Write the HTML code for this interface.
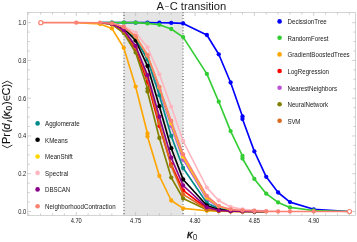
<!DOCTYPE html><html><head><meta charset="utf-8"><style>html,body{margin:0;padding:0;background:#fff}</style></head><body><svg width="357" height="242" viewBox="0 0 357 242" style="display:block;will-change:transform;font-family:'Liberation Sans',sans-serif">
<rect width="357" height="242" fill="#fff"/>
<rect x="123.50" y="12.6" width="59.32" height="202.8" fill="#e5e5e5"/>
<line x1="124.05" y1="12.05" x2="124.05" y2="215.4" stroke="#888" stroke-width="1.7" stroke-dasharray="0.9 2.145"/>
<line x1="183.02" y1="12.05" x2="183.02" y2="215.4" stroke="#888" stroke-width="1.7" stroke-dasharray="0.9 2.145"/>
<polyline points="100.00,22.65 111.87,22.65 123.75,22.65 135.62,22.65 147.49,22.65 159.37,22.70 171.24,22.90 183.12,23.40 206.86,35.00 218.74,54.30 230.61,82.50 242.49,116.50 242.49,119.00 254.36,151.40 266.23,176.80 278.11,192.50 289.98,202.10 313.73,209.30 349.35,211.50" fill="none" stroke="#0000ff" stroke-width="1.65" stroke-linejoin="round"/>
<circle cx="111.87" cy="22.65" r="2.15" fill="#0000ff"/>
<circle cx="123.75" cy="22.65" r="2.15" fill="#0000ff"/>
<circle cx="135.62" cy="22.65" r="2.15" fill="#0000ff"/>
<circle cx="147.49" cy="22.65" r="2.15" fill="#0000ff"/>
<circle cx="159.37" cy="22.70" r="2.15" fill="#0000ff"/>
<circle cx="171.24" cy="22.90" r="2.15" fill="#0000ff"/>
<circle cx="183.12" cy="23.40" r="2.15" fill="#0000ff"/>
<circle cx="206.86" cy="35.00" r="2.15" fill="#0000ff"/>
<circle cx="218.74" cy="54.30" r="2.15" fill="#0000ff"/>
<circle cx="230.61" cy="82.50" r="2.15" fill="#0000ff"/>
<circle cx="242.49" cy="116.50" r="2.15" fill="#0000ff"/>
<circle cx="242.49" cy="119.00" r="2.15" fill="#0000ff"/>
<circle cx="254.36" cy="151.40" r="2.15" fill="#0000ff"/>
<circle cx="266.23" cy="176.80" r="2.15" fill="#0000ff"/>
<circle cx="278.11" cy="192.50" r="2.15" fill="#0000ff"/>
<circle cx="289.98" cy="202.10" r="2.15" fill="#0000ff"/>
<circle cx="313.73" cy="209.30" r="2.15" fill="#0000ff"/>
<polyline points="100.00,22.65 111.87,22.65 123.75,22.65 135.62,22.65 147.49,23.40 159.37,24.80 171.24,29.00 183.12,37.10 206.86,73.90 218.74,101.70 230.61,131.10 242.49,156.00 242.49,158.50 254.36,178.90 266.23,193.70 278.11,202.40 289.98,207.40 313.73,210.50 349.35,211.50" fill="none" stroke="#32cd32" stroke-width="1.65" stroke-linejoin="round"/>
<circle cx="111.87" cy="22.65" r="2.15" fill="#32cd32"/>
<circle cx="123.75" cy="22.65" r="2.15" fill="#32cd32"/>
<circle cx="135.62" cy="22.65" r="2.15" fill="#32cd32"/>
<circle cx="147.49" cy="23.40" r="2.15" fill="#32cd32"/>
<circle cx="159.37" cy="24.80" r="2.15" fill="#32cd32"/>
<circle cx="171.24" cy="29.00" r="2.15" fill="#32cd32"/>
<circle cx="183.12" cy="37.10" r="2.15" fill="#32cd32"/>
<circle cx="206.86" cy="73.90" r="2.15" fill="#32cd32"/>
<circle cx="218.74" cy="101.70" r="2.15" fill="#32cd32"/>
<circle cx="230.61" cy="131.10" r="2.15" fill="#32cd32"/>
<circle cx="242.49" cy="156.00" r="2.15" fill="#32cd32"/>
<circle cx="242.49" cy="158.50" r="2.15" fill="#32cd32"/>
<circle cx="254.36" cy="178.90" r="2.15" fill="#32cd32"/>
<circle cx="266.23" cy="193.70" r="2.15" fill="#32cd32"/>
<circle cx="278.11" cy="202.40" r="2.15" fill="#32cd32"/>
<circle cx="289.98" cy="207.40" r="2.15" fill="#32cd32"/>
<circle cx="313.73" cy="210.50" r="2.15" fill="#32cd32"/>
<polyline points="76.25,22.65 100.00,24.00 111.87,28.40 123.75,47.80 135.62,86.60 147.49,133.50 147.49,136.50 159.37,176.00 171.24,200.50 183.12,208.40 206.86,210.80 218.74,211.30 230.61,211.50 242.49,211.50 254.36,211.50 266.23,211.50" fill="none" stroke="#ffa500" stroke-width="1.65" stroke-linejoin="round"/>
<circle cx="100.00" cy="24.00" r="2.15" fill="#ffa500"/>
<circle cx="111.87" cy="28.40" r="2.15" fill="#ffa500"/>
<circle cx="123.75" cy="47.80" r="2.15" fill="#ffa500"/>
<circle cx="135.62" cy="86.60" r="2.15" fill="#ffa500"/>
<circle cx="147.49" cy="133.50" r="2.15" fill="#ffa500"/>
<circle cx="147.49" cy="136.50" r="2.15" fill="#ffa500"/>
<circle cx="159.37" cy="176.00" r="2.15" fill="#ffa500"/>
<circle cx="171.24" cy="200.50" r="2.15" fill="#ffa500"/>
<circle cx="183.12" cy="208.40" r="2.15" fill="#ffa500"/>
<circle cx="206.86" cy="210.80" r="2.15" fill="#ffa500"/>
<circle cx="218.74" cy="211.30" r="2.15" fill="#ffa500"/>
<circle cx="230.61" cy="211.50" r="2.15" fill="#ffa500"/>
<circle cx="242.49" cy="211.50" r="2.15" fill="#ffa500"/>
<circle cx="254.36" cy="211.50" r="2.15" fill="#ffa500"/>
<polyline points="100.00,22.80 111.87,24.00 123.75,31.50 135.62,49.50 147.49,82.00 159.37,126.00 171.24,164.50 183.12,190.40 206.86,208.50 218.74,210.60 230.61,211.20 242.49,211.50 254.36,211.50 266.23,211.50" fill="none" stroke="#ff0000" stroke-width="1.65" stroke-linejoin="round"/>
<circle cx="111.87" cy="24.00" r="2.15" fill="#ff0000"/>
<circle cx="123.75" cy="31.50" r="2.15" fill="#ff0000"/>
<circle cx="135.62" cy="49.50" r="2.15" fill="#ff0000"/>
<circle cx="147.49" cy="82.00" r="2.15" fill="#ff0000"/>
<circle cx="159.37" cy="126.00" r="2.15" fill="#ff0000"/>
<circle cx="171.24" cy="164.50" r="2.15" fill="#ff0000"/>
<circle cx="183.12" cy="190.40" r="2.15" fill="#ff0000"/>
<circle cx="206.86" cy="208.50" r="2.15" fill="#ff0000"/>
<circle cx="218.74" cy="210.60" r="2.15" fill="#ff0000"/>
<circle cx="230.61" cy="211.20" r="2.15" fill="#ff0000"/>
<circle cx="242.49" cy="211.50" r="2.15" fill="#ff0000"/>
<circle cx="254.36" cy="211.50" r="2.15" fill="#ff0000"/>
<polyline points="111.87,23.50 123.75,28.00 135.62,37.50 147.49,57.00 159.37,90.00 171.24,126.00 183.12,159.40 206.86,199.20 218.74,207.20 230.61,210.00 242.49,211.00 254.36,211.50 266.23,211.50" fill="none" stroke="#ba55d3" stroke-width="1.65" stroke-linejoin="round"/>
<circle cx="123.75" cy="28.00" r="2.15" fill="#ba55d3"/>
<circle cx="135.62" cy="37.50" r="2.15" fill="#ba55d3"/>
<circle cx="147.49" cy="57.00" r="2.15" fill="#ba55d3"/>
<circle cx="159.37" cy="90.00" r="2.15" fill="#ba55d3"/>
<circle cx="171.24" cy="126.00" r="2.15" fill="#ba55d3"/>
<circle cx="183.12" cy="159.40" r="2.15" fill="#ba55d3"/>
<circle cx="206.86" cy="199.20" r="2.15" fill="#ba55d3"/>
<circle cx="218.74" cy="207.20" r="2.15" fill="#ba55d3"/>
<circle cx="230.61" cy="210.00" r="2.15" fill="#ba55d3"/>
<circle cx="242.49" cy="211.00" r="2.15" fill="#ba55d3"/>
<circle cx="254.36" cy="211.50" r="2.15" fill="#ba55d3"/>
<polyline points="100.00,22.90 111.87,24.30 123.75,33.00 135.62,52.60 147.49,88.60 147.49,91.50 159.37,138.00 171.24,177.60 183.12,198.50 206.86,209.80 218.74,211.00 230.61,211.30 242.49,211.50 254.36,211.50 266.23,211.50" fill="none" stroke="#808000" stroke-width="1.65" stroke-linejoin="round"/>
<circle cx="111.87" cy="24.30" r="2.15" fill="#808000"/>
<circle cx="123.75" cy="33.00" r="2.15" fill="#808000"/>
<circle cx="135.62" cy="52.60" r="2.15" fill="#808000"/>
<circle cx="147.49" cy="88.60" r="2.15" fill="#808000"/>
<circle cx="147.49" cy="91.50" r="2.15" fill="#808000"/>
<circle cx="159.37" cy="138.00" r="2.15" fill="#808000"/>
<circle cx="171.24" cy="177.60" r="2.15" fill="#808000"/>
<circle cx="183.12" cy="198.50" r="2.15" fill="#808000"/>
<circle cx="206.86" cy="209.80" r="2.15" fill="#808000"/>
<circle cx="218.74" cy="211.00" r="2.15" fill="#808000"/>
<circle cx="230.61" cy="211.30" r="2.15" fill="#808000"/>
<circle cx="242.49" cy="211.50" r="2.15" fill="#808000"/>
<circle cx="254.36" cy="211.50" r="2.15" fill="#808000"/>
<polyline points="100.00,22.80 111.87,24.00 123.75,31.00 135.62,47.50 147.49,78.00 159.37,123.00 171.24,166.00 183.12,194.40 206.86,209.20 218.74,210.80 230.61,211.20 242.49,211.50 254.36,211.50 266.23,211.50" fill="none" stroke="#dc6a1e" stroke-width="1.65" stroke-linejoin="round"/>
<circle cx="111.87" cy="24.00" r="2.15" fill="#dc6a1e"/>
<circle cx="123.75" cy="31.00" r="2.15" fill="#dc6a1e"/>
<circle cx="135.62" cy="47.50" r="2.15" fill="#dc6a1e"/>
<circle cx="147.49" cy="78.00" r="2.15" fill="#dc6a1e"/>
<circle cx="159.37" cy="123.00" r="2.15" fill="#dc6a1e"/>
<circle cx="171.24" cy="166.00" r="2.15" fill="#dc6a1e"/>
<circle cx="183.12" cy="194.40" r="2.15" fill="#dc6a1e"/>
<circle cx="206.86" cy="209.20" r="2.15" fill="#dc6a1e"/>
<circle cx="218.74" cy="210.80" r="2.15" fill="#dc6a1e"/>
<circle cx="230.61" cy="211.20" r="2.15" fill="#dc6a1e"/>
<circle cx="242.49" cy="211.50" r="2.15" fill="#dc6a1e"/>
<circle cx="254.36" cy="211.50" r="2.15" fill="#dc6a1e"/>
<polyline points="111.87,23.40 123.75,27.50 135.62,38.50 147.49,59.50 159.37,95.20 171.24,136.00 183.12,168.00 206.86,203.00 218.74,208.60 230.61,210.50 242.49,211.10 254.36,211.50 266.23,211.50" fill="none" stroke="#008b8b" stroke-width="1.65" stroke-linejoin="round"/>
<circle cx="123.75" cy="27.50" r="2.15" fill="#008b8b"/>
<circle cx="135.62" cy="38.50" r="2.15" fill="#008b8b"/>
<circle cx="147.49" cy="59.50" r="2.15" fill="#008b8b"/>
<circle cx="159.37" cy="95.20" r="2.15" fill="#008b8b"/>
<circle cx="171.24" cy="136.00" r="2.15" fill="#008b8b"/>
<circle cx="183.12" cy="168.00" r="2.15" fill="#008b8b"/>
<circle cx="206.86" cy="203.00" r="2.15" fill="#008b8b"/>
<circle cx="218.74" cy="208.60" r="2.15" fill="#008b8b"/>
<circle cx="230.61" cy="210.50" r="2.15" fill="#008b8b"/>
<circle cx="242.49" cy="211.10" r="2.15" fill="#008b8b"/>
<circle cx="254.36" cy="211.50" r="2.15" fill="#008b8b"/>
<polyline points="111.87,23.50 123.75,28.50 135.62,40.50 147.49,66.00 159.37,106.20 171.24,148.20 183.12,179.50 206.86,205.50 218.74,209.50 230.61,210.80 242.49,211.20 254.36,211.50 266.23,211.50" fill="none" stroke="#000000" stroke-width="1.65" stroke-linejoin="round"/>
<circle cx="123.75" cy="28.50" r="2.15" fill="#000000"/>
<circle cx="135.62" cy="40.50" r="2.15" fill="#000000"/>
<circle cx="147.49" cy="66.00" r="2.15" fill="#000000"/>
<circle cx="159.37" cy="106.20" r="2.15" fill="#000000"/>
<circle cx="171.24" cy="148.20" r="2.15" fill="#000000"/>
<circle cx="183.12" cy="179.50" r="2.15" fill="#000000"/>
<circle cx="206.86" cy="205.50" r="2.15" fill="#000000"/>
<circle cx="218.74" cy="209.50" r="2.15" fill="#000000"/>
<circle cx="230.61" cy="210.80" r="2.15" fill="#000000"/>
<circle cx="242.49" cy="211.20" r="2.15" fill="#000000"/>
<circle cx="254.36" cy="211.50" r="2.15" fill="#000000"/>
<polyline points="111.87,23.40 123.75,27.30 135.62,36.50 147.49,55.50 159.37,87.50 171.24,123.30 183.12,156.80 206.86,197.60 218.74,206.50 230.61,209.70 242.49,211.00 254.36,211.50 266.23,211.50" fill="none" stroke="#ffd700" stroke-width="1.65" stroke-linejoin="round"/>
<circle cx="123.75" cy="27.30" r="2.15" fill="#ffd700"/>
<circle cx="135.62" cy="36.50" r="2.15" fill="#ffd700"/>
<circle cx="147.49" cy="55.50" r="2.15" fill="#ffd700"/>
<circle cx="159.37" cy="87.50" r="2.15" fill="#ffd700"/>
<circle cx="171.24" cy="123.30" r="2.15" fill="#ffd700"/>
<circle cx="183.12" cy="156.80" r="2.15" fill="#ffd700"/>
<circle cx="206.86" cy="197.60" r="2.15" fill="#ffd700"/>
<circle cx="218.74" cy="206.50" r="2.15" fill="#ffd700"/>
<circle cx="242.49" cy="211.00" r="2.15" fill="#ffd700"/>
<circle cx="254.36" cy="211.50" r="2.15" fill="#ffd700"/>
<polyline points="111.87,23.20 123.75,26.50 135.62,32.60 147.49,47.50 159.37,74.30 171.24,106.70 183.12,141.00 206.86,187.60 218.74,200.50 230.61,206.90 242.49,209.40 254.36,210.40 266.23,211.00 278.11,211.30" fill="none" stroke="#ffb6c1" stroke-width="1.65" stroke-linejoin="round"/>
<circle cx="123.75" cy="26.50" r="2.15" fill="#ffb6c1"/>
<circle cx="135.62" cy="32.60" r="2.15" fill="#ffb6c1"/>
<circle cx="147.49" cy="47.50" r="2.15" fill="#ffb6c1"/>
<circle cx="159.37" cy="74.30" r="2.15" fill="#ffb6c1"/>
<circle cx="171.24" cy="106.70" r="2.15" fill="#ffb6c1"/>
<circle cx="183.12" cy="141.00" r="2.15" fill="#ffb6c1"/>
<circle cx="206.86" cy="187.60" r="2.15" fill="#ffb6c1"/>
<circle cx="218.74" cy="200.50" r="2.15" fill="#ffb6c1"/>
<circle cx="230.61" cy="206.90" r="2.15" fill="#ffb6c1"/>
<circle cx="242.49" cy="209.40" r="2.15" fill="#ffb6c1"/>
<circle cx="254.36" cy="210.40" r="2.15" fill="#ffb6c1"/>
<circle cx="266.23" cy="211.00" r="2.15" fill="#ffb6c1"/>
<polyline points="100.00,22.70 111.87,23.80 123.75,30.00 135.62,46.00 147.49,75.20 159.37,116.80 171.24,157.70 183.12,185.50 206.86,207.30 218.74,210.30 230.61,211.00 242.49,211.20 254.36,211.50 266.23,211.50" fill="none" stroke="#8b008b" stroke-width="1.65" stroke-linejoin="round"/>
<circle cx="111.87" cy="23.80" r="2.15" fill="#8b008b"/>
<circle cx="123.75" cy="30.00" r="2.15" fill="#8b008b"/>
<circle cx="135.62" cy="46.00" r="2.15" fill="#8b008b"/>
<circle cx="147.49" cy="75.20" r="2.15" fill="#8b008b"/>
<circle cx="159.37" cy="116.80" r="2.15" fill="#8b008b"/>
<circle cx="171.24" cy="157.70" r="2.15" fill="#8b008b"/>
<circle cx="183.12" cy="185.50" r="2.15" fill="#8b008b"/>
<circle cx="206.86" cy="207.30" r="2.15" fill="#8b008b"/>
<circle cx="218.74" cy="210.30" r="2.15" fill="#8b008b"/>
<circle cx="230.61" cy="211.00" r="2.15" fill="#8b008b"/>
<circle cx="242.49" cy="211.20" r="2.15" fill="#8b008b"/>
<circle cx="254.36" cy="211.50" r="2.15" fill="#8b008b"/>
<polyline points="40.63,22.65 76.25,22.65 100.00,22.70 111.87,23.30 123.75,27.00 135.62,36.10 147.49,55.00 159.37,86.80 171.24,121.00 183.12,154.40 206.86,196.00 218.74,206.00 230.61,209.40 242.49,210.50 254.36,211.00 266.23,211.50 278.11,211.50 289.98,211.50 313.73,211.50 349.35,211.50" fill="none" stroke="#fa8072" stroke-width="1.65" stroke-linejoin="round"/>
<circle cx="40.78" cy="22.65" r="2.05" fill="#fff" stroke="#fa8072" stroke-width="1.15"/>
<circle cx="76.25" cy="22.65" r="2.15" fill="#fa8072"/>
<circle cx="100.00" cy="22.70" r="2.15" fill="#fa8072"/>
<circle cx="111.87" cy="23.30" r="2.15" fill="#fa8072"/>
<circle cx="123.75" cy="27.00" r="2.15" fill="#fa8072"/>
<circle cx="135.62" cy="36.10" r="2.15" fill="#fa8072"/>
<circle cx="147.49" cy="55.00" r="2.15" fill="#fa8072"/>
<circle cx="159.37" cy="86.80" r="2.15" fill="#fa8072"/>
<circle cx="171.24" cy="121.00" r="2.15" fill="#fa8072"/>
<circle cx="183.12" cy="154.40" r="2.15" fill="#fa8072"/>
<circle cx="206.86" cy="196.00" r="2.15" fill="#fa8072"/>
<circle cx="218.74" cy="206.00" r="2.15" fill="#fa8072"/>
<circle cx="230.61" cy="209.40" r="2.15" fill="#fa8072"/>
<circle cx="242.49" cy="210.50" r="2.15" fill="#fa8072"/>
<circle cx="254.36" cy="211.00" r="2.15" fill="#fa8072"/>
<circle cx="266.23" cy="211.50" r="2.15" fill="#fa8072"/>
<circle cx="278.11" cy="211.50" r="2.15" fill="#fa8072"/>
<circle cx="289.98" cy="211.50" r="2.15" fill="#fa8072"/>
<circle cx="313.73" cy="211.50" r="2.15" fill="#fa8072"/>
<circle cx="349.50" cy="211.50" r="2.05" fill="#fff" stroke="#fa8072" stroke-width="1.15"/>
<rect x="27.7" y="12.6" width="327.8" height="202.8" fill="none" stroke="#b2b2b2" stroke-width="0.55"/>
<line x1="28.75" y1="215.4" x2="28.75" y2="213.3" stroke="#b2b2b2" stroke-width="0.6"/>
<line x1="28.75" y1="12.6" x2="28.75" y2="14.7" stroke="#b2b2b2" stroke-width="0.6"/>
<line x1="40.63" y1="215.4" x2="40.63" y2="213.3" stroke="#b2b2b2" stroke-width="0.6"/>
<line x1="40.63" y1="12.6" x2="40.63" y2="14.7" stroke="#b2b2b2" stroke-width="0.6"/>
<line x1="52.50" y1="215.4" x2="52.50" y2="213.3" stroke="#b2b2b2" stroke-width="0.6"/>
<line x1="52.50" y1="12.6" x2="52.50" y2="14.7" stroke="#b2b2b2" stroke-width="0.6"/>
<line x1="64.38" y1="215.4" x2="64.38" y2="213.3" stroke="#b2b2b2" stroke-width="0.6"/>
<line x1="64.38" y1="12.6" x2="64.38" y2="14.7" stroke="#b2b2b2" stroke-width="0.6"/>
<line x1="76.25" y1="215.4" x2="76.25" y2="212.0" stroke="#b2b2b2" stroke-width="0.6"/>
<line x1="76.25" y1="12.6" x2="76.25" y2="16.0" stroke="#b2b2b2" stroke-width="0.6"/>
<line x1="88.12" y1="215.4" x2="88.12" y2="213.3" stroke="#b2b2b2" stroke-width="0.6"/>
<line x1="88.12" y1="12.6" x2="88.12" y2="14.7" stroke="#b2b2b2" stroke-width="0.6"/>
<line x1="100.00" y1="215.4" x2="100.00" y2="213.3" stroke="#b2b2b2" stroke-width="0.6"/>
<line x1="100.00" y1="12.6" x2="100.00" y2="14.7" stroke="#b2b2b2" stroke-width="0.6"/>
<line x1="111.87" y1="215.4" x2="111.87" y2="213.3" stroke="#b2b2b2" stroke-width="0.6"/>
<line x1="111.87" y1="12.6" x2="111.87" y2="14.7" stroke="#b2b2b2" stroke-width="0.6"/>
<line x1="123.75" y1="215.4" x2="123.75" y2="213.3" stroke="#b2b2b2" stroke-width="0.6"/>
<line x1="123.75" y1="12.6" x2="123.75" y2="14.7" stroke="#b2b2b2" stroke-width="0.6"/>
<line x1="135.62" y1="215.4" x2="135.62" y2="212.0" stroke="#b2b2b2" stroke-width="0.6"/>
<line x1="135.62" y1="12.6" x2="135.62" y2="16.0" stroke="#b2b2b2" stroke-width="0.6"/>
<line x1="147.49" y1="215.4" x2="147.49" y2="213.3" stroke="#b2b2b2" stroke-width="0.6"/>
<line x1="147.49" y1="12.6" x2="147.49" y2="14.7" stroke="#b2b2b2" stroke-width="0.6"/>
<line x1="159.37" y1="215.4" x2="159.37" y2="213.3" stroke="#b2b2b2" stroke-width="0.6"/>
<line x1="159.37" y1="12.6" x2="159.37" y2="14.7" stroke="#b2b2b2" stroke-width="0.6"/>
<line x1="171.24" y1="215.4" x2="171.24" y2="213.3" stroke="#b2b2b2" stroke-width="0.6"/>
<line x1="171.24" y1="12.6" x2="171.24" y2="14.7" stroke="#b2b2b2" stroke-width="0.6"/>
<line x1="183.12" y1="215.4" x2="183.12" y2="213.3" stroke="#b2b2b2" stroke-width="0.6"/>
<line x1="183.12" y1="12.6" x2="183.12" y2="14.7" stroke="#b2b2b2" stroke-width="0.6"/>
<line x1="194.99" y1="215.4" x2="194.99" y2="212.0" stroke="#b2b2b2" stroke-width="0.6"/>
<line x1="194.99" y1="12.6" x2="194.99" y2="16.0" stroke="#b2b2b2" stroke-width="0.6"/>
<line x1="206.86" y1="215.4" x2="206.86" y2="213.3" stroke="#b2b2b2" stroke-width="0.6"/>
<line x1="206.86" y1="12.6" x2="206.86" y2="14.7" stroke="#b2b2b2" stroke-width="0.6"/>
<line x1="218.74" y1="215.4" x2="218.74" y2="213.3" stroke="#b2b2b2" stroke-width="0.6"/>
<line x1="218.74" y1="12.6" x2="218.74" y2="14.7" stroke="#b2b2b2" stroke-width="0.6"/>
<line x1="230.61" y1="215.4" x2="230.61" y2="213.3" stroke="#b2b2b2" stroke-width="0.6"/>
<line x1="230.61" y1="12.6" x2="230.61" y2="14.7" stroke="#b2b2b2" stroke-width="0.6"/>
<line x1="242.49" y1="215.4" x2="242.49" y2="213.3" stroke="#b2b2b2" stroke-width="0.6"/>
<line x1="242.49" y1="12.6" x2="242.49" y2="14.7" stroke="#b2b2b2" stroke-width="0.6"/>
<line x1="254.36" y1="215.4" x2="254.36" y2="212.0" stroke="#b2b2b2" stroke-width="0.6"/>
<line x1="254.36" y1="12.6" x2="254.36" y2="16.0" stroke="#b2b2b2" stroke-width="0.6"/>
<line x1="266.23" y1="215.4" x2="266.23" y2="213.3" stroke="#b2b2b2" stroke-width="0.6"/>
<line x1="266.23" y1="12.6" x2="266.23" y2="14.7" stroke="#b2b2b2" stroke-width="0.6"/>
<line x1="278.11" y1="215.4" x2="278.11" y2="213.3" stroke="#b2b2b2" stroke-width="0.6"/>
<line x1="278.11" y1="12.6" x2="278.11" y2="14.7" stroke="#b2b2b2" stroke-width="0.6"/>
<line x1="289.98" y1="215.4" x2="289.98" y2="213.3" stroke="#b2b2b2" stroke-width="0.6"/>
<line x1="289.98" y1="12.6" x2="289.98" y2="14.7" stroke="#b2b2b2" stroke-width="0.6"/>
<line x1="301.86" y1="215.4" x2="301.86" y2="213.3" stroke="#b2b2b2" stroke-width="0.6"/>
<line x1="301.86" y1="12.6" x2="301.86" y2="14.7" stroke="#b2b2b2" stroke-width="0.6"/>
<line x1="313.73" y1="215.4" x2="313.73" y2="212.0" stroke="#b2b2b2" stroke-width="0.6"/>
<line x1="313.73" y1="12.6" x2="313.73" y2="16.0" stroke="#b2b2b2" stroke-width="0.6"/>
<line x1="325.60" y1="215.4" x2="325.60" y2="213.3" stroke="#b2b2b2" stroke-width="0.6"/>
<line x1="325.60" y1="12.6" x2="325.60" y2="14.7" stroke="#b2b2b2" stroke-width="0.6"/>
<line x1="337.48" y1="215.4" x2="337.48" y2="213.3" stroke="#b2b2b2" stroke-width="0.6"/>
<line x1="337.48" y1="12.6" x2="337.48" y2="14.7" stroke="#b2b2b2" stroke-width="0.6"/>
<line x1="349.35" y1="215.4" x2="349.35" y2="213.3" stroke="#b2b2b2" stroke-width="0.6"/>
<line x1="349.35" y1="12.6" x2="349.35" y2="14.7" stroke="#b2b2b2" stroke-width="0.6"/>
<line x1="27.7" y1="211.50" x2="31.099999999999998" y2="211.50" stroke="#b2b2b2" stroke-width="0.6"/>
<line x1="355.5" y1="211.50" x2="352.1" y2="211.50" stroke="#b2b2b2" stroke-width="0.6"/>
<line x1="27.7" y1="202.06" x2="29.8" y2="202.06" stroke="#b2b2b2" stroke-width="0.6"/>
<line x1="355.5" y1="202.06" x2="353.4" y2="202.06" stroke="#b2b2b2" stroke-width="0.6"/>
<line x1="27.7" y1="192.62" x2="29.8" y2="192.62" stroke="#b2b2b2" stroke-width="0.6"/>
<line x1="355.5" y1="192.62" x2="353.4" y2="192.62" stroke="#b2b2b2" stroke-width="0.6"/>
<line x1="27.7" y1="183.17" x2="29.8" y2="183.17" stroke="#b2b2b2" stroke-width="0.6"/>
<line x1="355.5" y1="183.17" x2="353.4" y2="183.17" stroke="#b2b2b2" stroke-width="0.6"/>
<line x1="27.7" y1="173.73" x2="31.099999999999998" y2="173.73" stroke="#b2b2b2" stroke-width="0.6"/>
<line x1="355.5" y1="173.73" x2="352.1" y2="173.73" stroke="#b2b2b2" stroke-width="0.6"/>
<line x1="27.7" y1="164.29" x2="29.8" y2="164.29" stroke="#b2b2b2" stroke-width="0.6"/>
<line x1="355.5" y1="164.29" x2="353.4" y2="164.29" stroke="#b2b2b2" stroke-width="0.6"/>
<line x1="27.7" y1="154.84" x2="29.8" y2="154.84" stroke="#b2b2b2" stroke-width="0.6"/>
<line x1="355.5" y1="154.84" x2="353.4" y2="154.84" stroke="#b2b2b2" stroke-width="0.6"/>
<line x1="27.7" y1="145.40" x2="29.8" y2="145.40" stroke="#b2b2b2" stroke-width="0.6"/>
<line x1="355.5" y1="145.40" x2="353.4" y2="145.40" stroke="#b2b2b2" stroke-width="0.6"/>
<line x1="27.7" y1="135.96" x2="31.099999999999998" y2="135.96" stroke="#b2b2b2" stroke-width="0.6"/>
<line x1="355.5" y1="135.96" x2="352.1" y2="135.96" stroke="#b2b2b2" stroke-width="0.6"/>
<line x1="27.7" y1="126.52" x2="29.8" y2="126.52" stroke="#b2b2b2" stroke-width="0.6"/>
<line x1="355.5" y1="126.52" x2="353.4" y2="126.52" stroke="#b2b2b2" stroke-width="0.6"/>
<line x1="27.7" y1="117.08" x2="29.8" y2="117.08" stroke="#b2b2b2" stroke-width="0.6"/>
<line x1="355.5" y1="117.08" x2="353.4" y2="117.08" stroke="#b2b2b2" stroke-width="0.6"/>
<line x1="27.7" y1="107.63" x2="29.8" y2="107.63" stroke="#b2b2b2" stroke-width="0.6"/>
<line x1="355.5" y1="107.63" x2="353.4" y2="107.63" stroke="#b2b2b2" stroke-width="0.6"/>
<line x1="27.7" y1="98.19" x2="31.099999999999998" y2="98.19" stroke="#b2b2b2" stroke-width="0.6"/>
<line x1="355.5" y1="98.19" x2="352.1" y2="98.19" stroke="#b2b2b2" stroke-width="0.6"/>
<line x1="27.7" y1="88.75" x2="29.8" y2="88.75" stroke="#b2b2b2" stroke-width="0.6"/>
<line x1="355.5" y1="88.75" x2="353.4" y2="88.75" stroke="#b2b2b2" stroke-width="0.6"/>
<line x1="27.7" y1="79.30" x2="29.8" y2="79.30" stroke="#b2b2b2" stroke-width="0.6"/>
<line x1="355.5" y1="79.30" x2="353.4" y2="79.30" stroke="#b2b2b2" stroke-width="0.6"/>
<line x1="27.7" y1="69.86" x2="29.8" y2="69.86" stroke="#b2b2b2" stroke-width="0.6"/>
<line x1="355.5" y1="69.86" x2="353.4" y2="69.86" stroke="#b2b2b2" stroke-width="0.6"/>
<line x1="27.7" y1="60.42" x2="31.099999999999998" y2="60.42" stroke="#b2b2b2" stroke-width="0.6"/>
<line x1="355.5" y1="60.42" x2="352.1" y2="60.42" stroke="#b2b2b2" stroke-width="0.6"/>
<line x1="27.7" y1="50.98" x2="29.8" y2="50.98" stroke="#b2b2b2" stroke-width="0.6"/>
<line x1="355.5" y1="50.98" x2="353.4" y2="50.98" stroke="#b2b2b2" stroke-width="0.6"/>
<line x1="27.7" y1="41.53" x2="29.8" y2="41.53" stroke="#b2b2b2" stroke-width="0.6"/>
<line x1="355.5" y1="41.53" x2="353.4" y2="41.53" stroke="#b2b2b2" stroke-width="0.6"/>
<line x1="27.7" y1="32.09" x2="29.8" y2="32.09" stroke="#b2b2b2" stroke-width="0.6"/>
<line x1="355.5" y1="32.09" x2="353.4" y2="32.09" stroke="#b2b2b2" stroke-width="0.6"/>
<line x1="27.7" y1="22.65" x2="31.099999999999998" y2="22.65" stroke="#b2b2b2" stroke-width="0.6"/>
<line x1="355.5" y1="22.65" x2="352.1" y2="22.65" stroke="#b2b2b2" stroke-width="0.6"/>
<g>
<text transform="translate(76.25,222.9) scale(0.88,1)" font-size="6.5" text-anchor="middle" fill="#1a1a1a">4.70</text>
<text transform="translate(135.62,222.9) scale(0.88,1)" font-size="6.5" text-anchor="middle" fill="#1a1a1a">4.75</text>
<text transform="translate(194.99,222.9) scale(0.88,1)" font-size="6.5" text-anchor="middle" fill="#1a1a1a">4.80</text>
<text transform="translate(254.36,222.9) scale(0.88,1)" font-size="6.5" text-anchor="middle" fill="#1a1a1a">4.85</text>
<text transform="translate(313.73,222.9) scale(0.88,1)" font-size="6.5" text-anchor="middle" fill="#1a1a1a">4.90</text>
<text transform="translate(26.1,213.85) scale(0.88,1)" font-size="6.5" text-anchor="end" fill="#1a1a1a">0.0</text>
<text transform="translate(26.1,176.08) scale(0.88,1)" font-size="6.5" text-anchor="end" fill="#1a1a1a">0.2</text>
<text transform="translate(26.1,138.31) scale(0.88,1)" font-size="6.5" text-anchor="end" fill="#1a1a1a">0.4</text>
<text transform="translate(26.1,100.54) scale(0.88,1)" font-size="6.5" text-anchor="end" fill="#1a1a1a">0.6</text>
<text transform="translate(26.1,62.77) scale(0.88,1)" font-size="6.5" text-anchor="end" fill="#1a1a1a">0.8</text>
<text transform="translate(26.1,25.00) scale(0.88,1)" font-size="6.5" text-anchor="end" fill="#1a1a1a">1.0</text>
<text x="156.6" y="9.8" font-size="11.2" fill="#1a1a1a">A<tspan font-size="7" dx="0.9" dy="-1.8">–</tspan><tspan dx="0.8" dy="1.8">C transition</tspan></text>
<text x="187.0" y="238" font-size="11" font-style="italic" fill="#111" stroke="#111" stroke-width="0.35">κ</text>
<text x="192.8" y="239.8" font-size="8.3" fill="#333">0</text>
<g transform="translate(9.9,149.0) rotate(-90)" fill="#111" stroke="#111" stroke-width="0.15" font-size="10.9">
<polyline points="3.9,-7.9 1.2,-2.7 3.9,2.5" fill="none" stroke="#111" stroke-width="0.85"/>
<text x="4.9" y="0">P</text>
<text x="12.3" y="0">r</text>
<text x="16.6" y="0">(</text>
<text x="19.5" y="0" font-style="italic">d</text>
<text x="27.0" y="2" font-size="8" font-style="italic">i</text>
<text x="29.4" y="0">(</text>
<text x="32.5" y="0" font-style="italic" stroke="#111" stroke-width="0.3">κ</text>
<text x="38.4" y="2" font-size="8.4">0</text>
<text x="43.9" y="0">)</text>
<path d="M53.3,-6.0 H51.2 A2.7,2.9 0 0 0 51.2,-0.2 H53.3 M48.6,-3.1 H53.3" fill="none" stroke="#111" stroke-width="0.85"/>
<text x="53.5" y="0">C</text>
<text x="61.4" y="0">)</text>
<polyline points="65.2,-7.9 67.9,-2.7 65.2,2.5" fill="none" stroke="#111" stroke-width="0.85"/>
</g>
<circle cx="279.6" cy="21.4" r="2.3" fill="#0000ff"/>
<text transform="translate(287.5,24.10) scale(0.9,1)" font-size="6.85" textLength="43.67" fill="#1a1a1a">DecissionTree</text>
<circle cx="279.6" cy="37.8" r="2.3" fill="#32cd32"/>
<text transform="translate(287.5,40.50) scale(0.9,1)" font-size="6.85" textLength="45.56" fill="#1a1a1a">RandomForest</text>
<circle cx="279.6" cy="54.4" r="2.3" fill="#ffa500"/>
<text transform="translate(287.5,57.10) scale(0.9,1)" font-size="6.85" textLength="69.11" fill="#1a1a1a">GradientBoostedTrees</text>
<circle cx="279.6" cy="71.0" r="2.3" fill="#ff0000"/>
<text transform="translate(287.5,73.70) scale(0.9,1)" font-size="6.85" textLength="46.11" fill="#1a1a1a">LogRegression</text>
<circle cx="279.6" cy="87.8" r="2.3" fill="#ba55d3"/>
<text transform="translate(287.5,90.50) scale(0.9,1)" font-size="6.85" textLength="55.00" fill="#1a1a1a">NearestNeighbors</text>
<circle cx="279.6" cy="104.3" r="2.3" fill="#808000"/>
<text transform="translate(287.5,107.00) scale(0.9,1)" font-size="6.85" textLength="45.00" fill="#1a1a1a">NeuralNetwork</text>
<circle cx="279.6" cy="120.8" r="2.3" fill="#dc6a1e"/>
<text transform="translate(287.5,123.50) scale(0.9,1)" font-size="6.85" textLength="14.44" fill="#1a1a1a">SVM</text>
<circle cx="37.6" cy="123.4" r="2.3" fill="#008b8b"/>
<text transform="translate(45.1,126.10) scale(0.9,1)" font-size="6.85" textLength="38.33" fill="#1a1a1a">Agglomerate</text>
<circle cx="37.6" cy="139.8" r="2.3" fill="#000000"/>
<text transform="translate(45.1,142.50) scale(0.9,1)" font-size="6.85" textLength="25.22" fill="#1a1a1a">KMeans</text>
<circle cx="37.6" cy="156.5" r="2.3" fill="#ffd700"/>
<text transform="translate(45.1,159.20) scale(0.9,1)" font-size="6.85" textLength="30.78" fill="#1a1a1a">MeanShift</text>
<circle cx="37.6" cy="172.9" r="2.3" fill="#ffb6c1"/>
<text transform="translate(45.1,175.60) scale(0.9,1)" font-size="6.85" textLength="25.78" fill="#1a1a1a">Spectral</text>
<circle cx="37.6" cy="189.4" r="2.3" fill="#8b008b"/>
<text transform="translate(45.1,192.10) scale(0.9,1)" font-size="6.85" textLength="28.00" fill="#1a1a1a">DBSCAN</text>
<circle cx="37.6" cy="206.2" r="2.3" fill="#fa8072"/>
<text transform="translate(45.1,208.90) scale(0.9,1)" font-size="6.85" textLength="78.33" fill="#1a1a1a">NeighborhoodContraction</text>
</g>
</svg></body></html>
